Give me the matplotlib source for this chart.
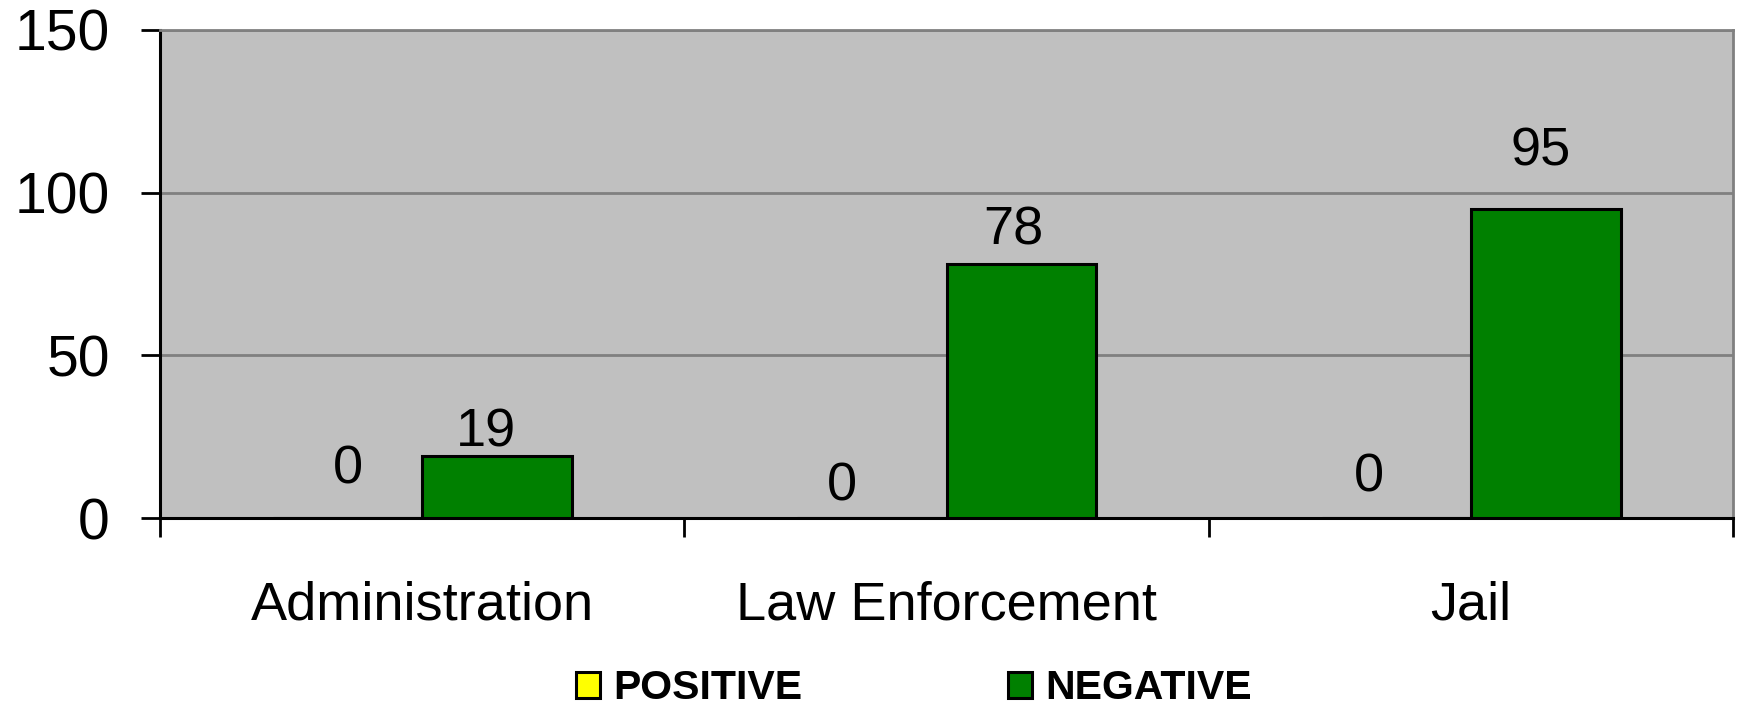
import numpy as np
import matplotlib.pyplot as plt
from matplotlib.ticker import FixedLocator

plt.rcParams['font.family'] = ['Liberation Sans', 'DejaVu Sans']

categories = ['Administration', 'Law Enforcement', 'Jail']
positive = [0, 0, 0]
negative = [19, 78, 95]
# label offsets (points) from the top centre of each bar, as placed in the original
pos_label_off = [(0, 25), (-21.6, 12.6), (-20, 19)]
neg_label_off = [(-8, 7.2), (-6, 14.4), (-3.6, 31)]

fig = plt.figure(figsize=(17.39, 7.06), dpi=100)
ax = fig.add_axes([0.092, 0.266, 0.9047, 0.692])
ax.set_facecolor('#C0C0C0')

x = np.arange(len(categories))
w = 0.285
b1 = ax.bar(x - w / 2, positive, w, color='#FFFF00', edgecolor='black', linewidth=2.2, label='POSITIVE', zorder=3)
b2 = ax.bar(x + w / 2, negative, w, color='#008000', edgecolor='black', linewidth=2.2, label='NEGATIVE', zorder=3)

for bars, offs in ((b1, pos_label_off), (b2, neg_label_off)):
    for r, off in zip(bars, offs):
        ax.annotate(f'{r.get_height():g}', (r.get_x() + r.get_width() / 2, r.get_height()),
                    xytext=off, textcoords='offset points', ha='center', va='baseline',
                    fontsize=39)

ax.set_xlim(-0.5, len(categories) - 0.5)
ax.set_ylim(0, 150)
ax.set_yticks([0, 50, 100, 150])
ax.yaxis.grid(True, color='#808080', linewidth=2)
ax.set_axisbelow(True)
ax.tick_params(axis='y', labelsize=41, length=14, width=2, pad=22)

ax.set_xticks(x)
ax.set_xticklabels(categories)
ax.xaxis.set_minor_locator(FixedLocator(np.arange(len(categories) + 1) - 0.5))
ax.tick_params(axis='x', which='major', length=0, labelsize=39, pad=45)
ax.tick_params(axis='x', which='minor', length=14, width=2)

for s in ('left', 'bottom'):
    ax.spines[s].set_color('black')
    ax.spines[s].set_linewidth(2.2)
for s in ('top', 'right'):
    ax.spines[s].set_color('#808080')
    ax.spines[s].set_linewidth(2)

fig.legend(handles=[b1, b2], loc='center', bbox_to_anchor=(0.5256, 0.025), ncol=2,
           frameon=False, handlelength=0.585, handleheight=0.6, handletextpad=0.34,
           columnspacing=5.0,
           prop={'weight': 'bold', 'size': 29.5})

fig.savefig('out.png', dpi=100)
